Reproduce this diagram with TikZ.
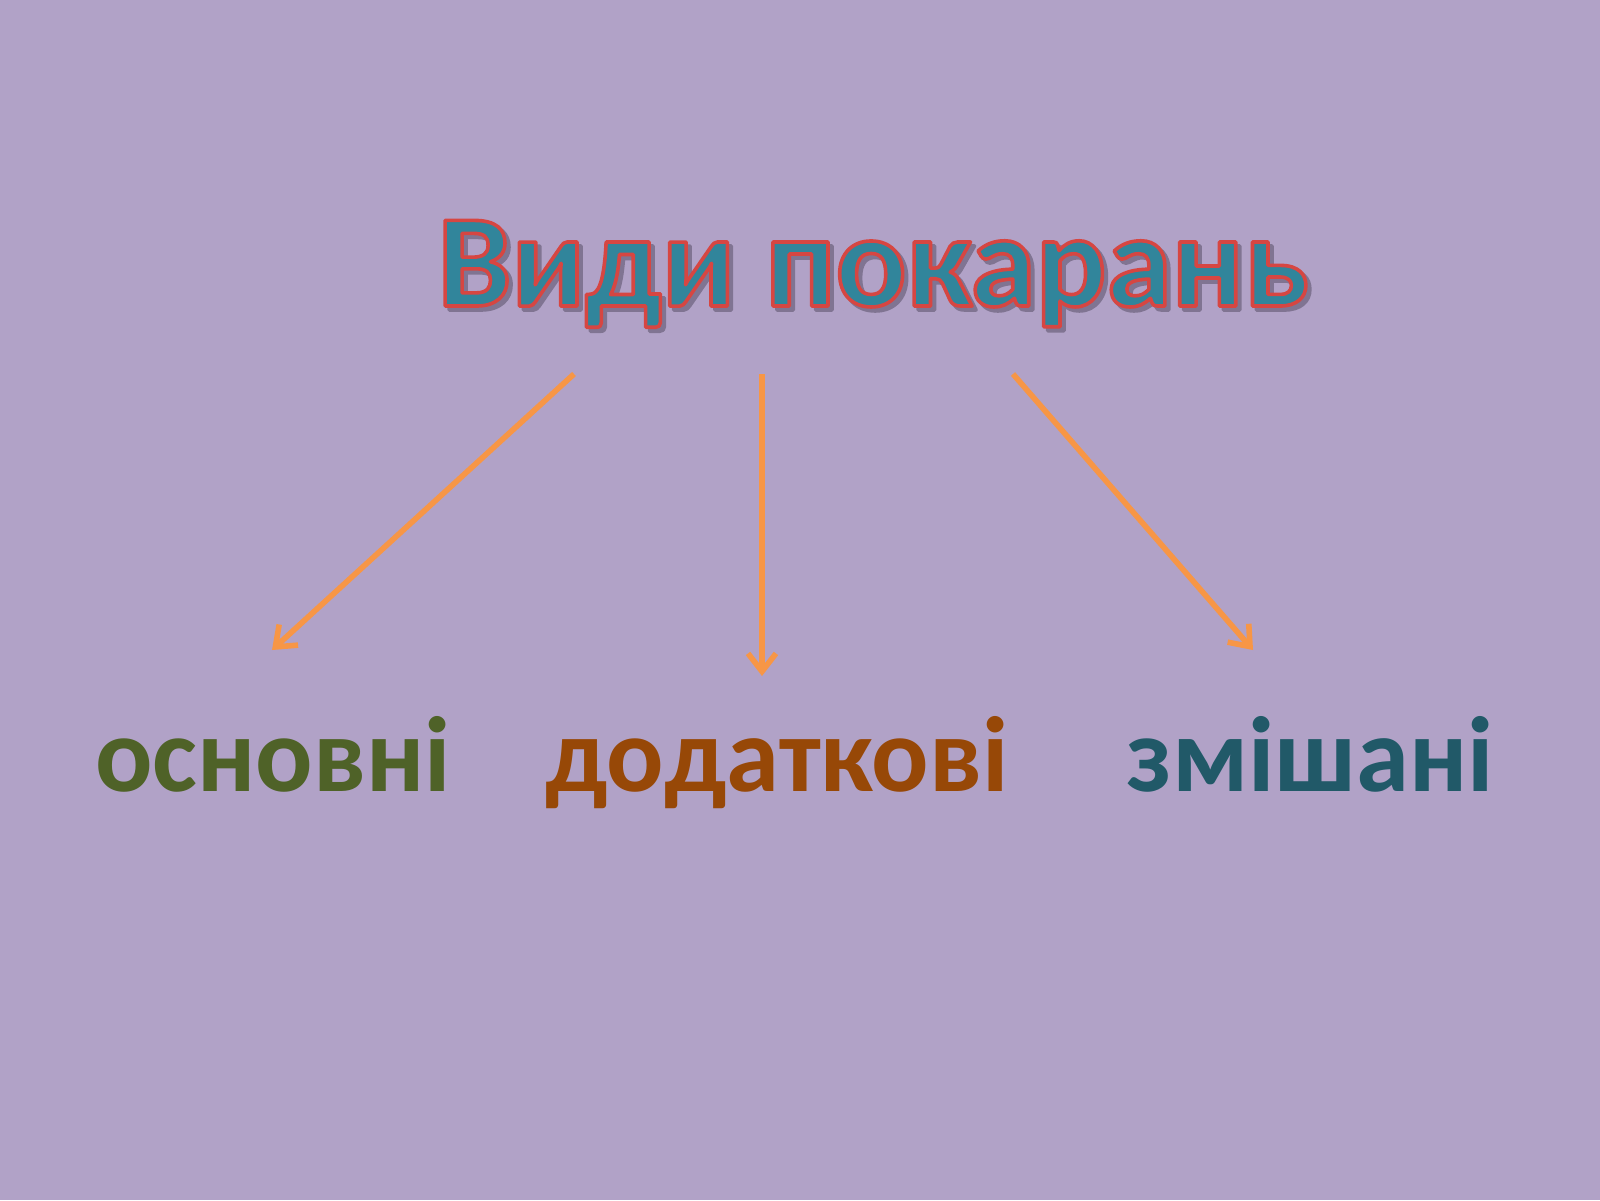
\documentclass[tikz,border=0pt]{standalone}
\usepackage{fontspec}
\setmainfont{Carlito}
\usepackage{xcolor}
\usetikzlibrary{arrows.meta}

\definecolor{slidebg}{RGB}{177,162,199}
\definecolor{titleteal}{RGB}{49,133,155}
\definecolor{titlered}{RGB}{214,70,66}
\definecolor{titleshade}{RGB}{128,116,146}
\definecolor{arroworange}{RGB}{247,150,70}
\definecolor{wordgreen}{RGB}{79,98,40}
\definecolor{wordbrown}{RGB}{151,72,7}
\definecolor{wordteal}{RGB}{33,89,104}

% red rim round the teal title letters (fill, then stroke)
\newcommand{\rimtext}[1]{\special{pdf:literal direct 0.839 0.275 0.259 RG 1.8 w 1 j 2 Tr}#1\special{pdf:literal direct 0 Tr}}
\newcommand{\shadetext}[1]{\special{pdf:literal direct 1.8 w 1 j 2 Tr}#1\special{pdf:literal direct 0 Tr}}

\tikzset{
  kind/.style={anchor=base, inner sep=0.75pt, font=\fontsize{53.5}{60}\selectfont\bfseries},
  branch/.style={draw=arroworange, line width=2.8pt, -{Straight Barb[length=9pt,width=14pt]}}
}

\begin{document}
\begin{tikzpicture}[x=0.5pt,y=0.5pt,yscale=-1,xscale=1]
    % background of the slide
    \fill[slidebg] (0,0) rectangle (1600,1200);
    \useasboundingbox (0,0) rectangle (1600,1200);

    % Title shadow
    \draw (877,310) node [anchor=base][inner sep=0.75pt] {\fontsize{66}{74}\selectfont\bfseries\color{titleshade}\shadetext{Види покарань}};
    % Title Node
    \draw (873,306) node (title) [anchor=base][inner sep=0.75pt] {\fontsize{66}{74}\selectfont\bfseries\color{titleteal}\rimtext{Види покарань}};

    % Text Nodes
    \node (main) [kind, text=wordgreen] at (273,791) {основні};
    \node (extra) [kind, text=wordbrown] at (777,791) {додаткові};
    \node (mixed) [kind, text=wordteal] at (1310,791) {змішані};

    % arrow ends
    \coordinate (fromL) at (574,374);
    \coordinate (fromM) at (762,374);
    \coordinate (fromR) at (1013,374);
    \coordinate (toL) at (272,650);
    \coordinate (toM) at (762,676);
    \coordinate (toR) at (1253,650);

    % Straight Lines
    \draw [branch] (fromL) -- (toL);
    \draw [branch] (fromM) -- (toM);
    \draw [branch] (fromR) -- (toR);

\end{tikzpicture}
\end{document}
